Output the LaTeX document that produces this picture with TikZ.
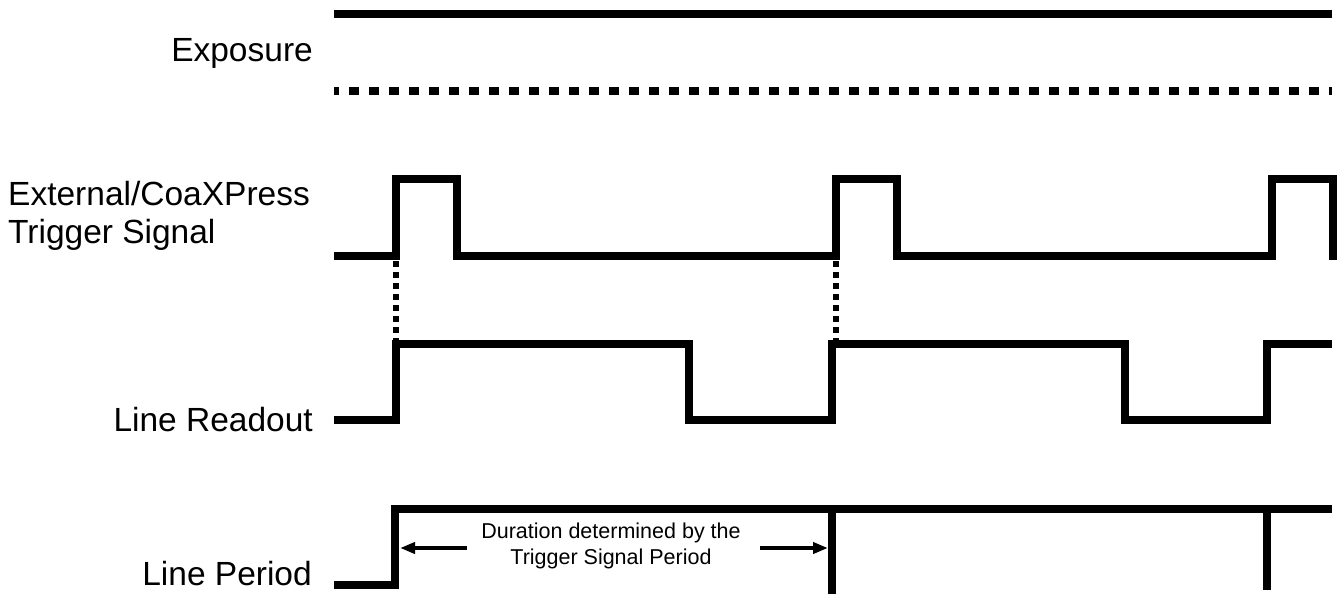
\documentclass[tikz,border=0pt]{standalone}
\usepackage{fontspec}
\setmainfont{Liberation Sans}
\usetikzlibrary{arrows.meta}
\begin{document}
\begin{tikzpicture}[x=1pt,y=-1pt,
  sig/.style={line width=8pt,line join=miter,line cap=butt},
  lbl/.style={font=\fontsize{33.5}{38}\selectfont,inner sep=0pt},
  lblr/.style={lbl,anchor=base east},
  dur/.style={font=\fontsize{21.5}{26}\selectfont,inner sep=0pt,align=center},
  durarrow/.style={line width=4.5pt,-{Triangle[length=15pt,width=11pt]}},
  guide/.style={line width=6pt,dash pattern=on 6pt off 5pt}]
\useasboundingbox (0,0) rectangle (1338,594);
% labels
\node[lblr] (lexp) at (313,62) {Exposure};
\node[lbl,anchor=base west,align=left] (ltrig) at (8,243) {External/CoaXPress\\Trigger Signal};
\node[lblr] (lread) at (313,431) {Line Readout};
\node[lblr] (lper) at (312,585) {Line Period};
% exposure
\draw[sig] (334,14) -- (1332,14);
\draw[sig,dash pattern=on 10pt off 10pt,dash phase=5pt] (334,91) -- (1332,91);
% trigger
\draw[sig] (334,256) -| (396,179) -| (457,256) -| (836,179) -| (897,256) -| (1272,179) -| (1333,260);
% readout
\draw[sig] (334,420) -| (396,344) -| (689,420) -| (832,344) -| (1125,420) -| (1267,344) -- (1332,344);
% period
\draw[sig] (334,585) -| (395,509) -- (1332,509);
\draw[sig] (832,509) -- (832,594);
\draw[sig] (1267,509) -- (1267,590);
% guides
\coordinate (g1a) at (396,261);
\coordinate (g1b) at (396,340);
\coordinate (g2a) at (836,261);
\coordinate (g2b) at (836,340);
\draw[guide] (g1a) -- (g1b);
\draw[guide] (g2a) -- (g2b);
% duration
\node[dur] (dtext) at (611,546) {Duration determined by the\\Trigger Signal Period};
\coordinate (al) at (400,548);
\coordinate (ar) at (828,548);
\draw[durarrow] (467,548) -- (al);
\draw[durarrow] (760,548) -- (ar);
\end{tikzpicture}
\end{document}
